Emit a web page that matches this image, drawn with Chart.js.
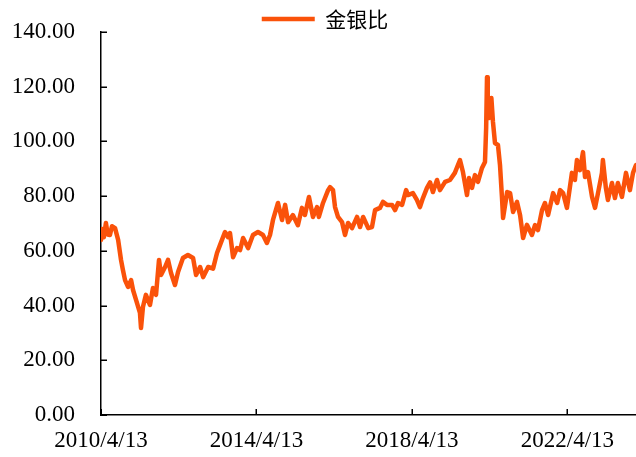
<!DOCTYPE html>
<html>
<head>
<meta charset="utf-8">
<script src="https://cdn.jsdelivr.net/npm/chart.js@4/dist/chart.umd.min.js"></script>
<style>
  html, body { margin: 0; padding: 0; background: #fff; }
  #wrap { width: 636px; height: 457px; position: relative; }
</style>
</head>
<body>
<div id="wrap"><canvas id="c"></canvas></div>
<script>
const seriesName = '金银比';
const startDate = '2010-04-13';
const endDate = '2024-01-17';
const tickDates = ['2010-04-13', '2014-04-13', '2018-04-13', '2022-04-13'];
const tickLabels = ['2010/4/13', '2014/4/13', '2018/4/13', '2022/4/13'];
const yTicks = [0, 20, 40, 60, 80, 100, 120, 140];

const dates = [
  '2010-04-13','2010-04-25','2010-05-10','2010-05-29','2010-06-15','2010-07-06','2010-07-25','2010-08-23','2010-09-21','2010-10-18',
  '2010-11-05','2010-11-25','2010-12-23','2011-01-21','2011-02-08','2011-03-09','2011-04-14','2011-04-24','2011-05-12','2011-06-09',
  '2011-07-17','2011-08-14','2011-09-12','2011-10-10','2011-10-29','2011-12-06','2012-01-03','2012-01-31','2012-03-08','2012-04-06',
  '2012-05-22','2012-07-08','2012-08-25','2012-09-22','2012-10-30','2012-11-28','2013-01-14','2013-03-01','2013-04-07','2013-05-05',
  '2013-06-21','2013-07-19','2013-08-07','2013-09-05','2013-10-12','2013-11-10','2013-12-08','2014-01-24','2014-03-11','2014-04-27',
  '2014-06-13','2014-07-20','2014-08-18','2014-09-15','2014-11-01','2014-12-09','2015-01-07','2015-02-04','2015-03-21','2015-05-07',
  '2015-06-14','2015-07-12','2015-08-19','2015-09-26','2015-11-03','2015-11-20','2015-12-29','2016-02-15','2016-03-04','2016-04-01',
  '2016-04-20','2016-05-18','2016-06-25','2016-07-23','2016-08-20','2016-09-27','2016-11-13','2016-12-11','2017-01-09','2017-02-26',
  '2017-04-02','2017-05-01','2017-06-16','2017-07-14','2017-08-21','2017-10-08','2017-11-05','2017-12-03','2018-01-10','2018-02-17',
  '2018-03-06','2018-04-22','2018-05-29','2018-06-27','2018-07-25','2018-09-01','2018-09-30','2018-10-27','2018-12-04','2019-01-01',
  '2019-02-18','2019-04-05','2019-05-21','2019-06-19','2019-07-08','2019-08-05','2019-09-12','2019-10-01','2019-10-29','2019-11-26',
  '2019-12-24','2020-01-31','2020-02-28','2020-03-10','2020-03-18','2020-03-25','2020-04-10','2020-04-28','2020-05-13','2020-06-01',
  '2020-06-29','2020-07-18','2020-08-06','2020-08-16','2020-09-23','2020-10-21','2020-11-18','2020-12-25','2021-01-23','2021-02-20',
  '2021-03-28','2021-05-14','2021-06-12','2021-07-10','2021-08-17','2021-09-14','2021-10-13','2021-11-29','2022-01-06','2022-02-03',
  '2022-03-03','2022-04-08','2022-05-06','2022-05-25','2022-06-22','2022-07-11','2022-08-08','2022-09-06','2022-09-25','2022-10-23',
  '2022-11-30','2022-12-28','2023-01-25','2023-03-03','2023-03-12','2023-04-09','2023-04-28','2023-06-05','2023-07-03','2023-07-31',
  '2023-09-07','2023-10-15','2023-11-21','2023-12-20','2024-01-17'
];
const ratio = [
  64.0, 68.0, 65.0, 70.2, 66.0, 65.8, 69.0, 68.3, 64.0, 56.7,
  53.0, 49.3, 46.8, 49.3, 45.7, 42.0, 37.3, 31.8, 39.5, 43.9,
  40.2, 46.4, 43.9, 56.7, 51.2, 54.1, 56.7, 51.9, 47.5, 52.3,
  57.4, 58.5, 57.4, 51.2, 54.1, 50.4, 54.1, 53.5, 59.2, 62.1,
  66.9, 65.0, 66.5, 57.7, 61.0, 60.3, 64.7, 61.0, 65.8, 66.9,
  65.8, 62.9, 65.8, 71.3, 77.5, 71.3, 76.8, 70.5, 73.1, 69.4,
  75.7, 73.1, 79.7, 72.4, 76.0, 72.4, 77.5, 82.2, 83.3, 82.2,
  76.0, 72.4, 70.5, 65.8, 70.2, 68.3, 72.4, 68.7, 72.4, 68.3,
  68.7, 74.9, 75.7, 77.9, 76.8, 76.8, 74.9, 77.5, 76.8, 82.2,
  80.4, 81.1, 78.6, 76.0, 79.3, 83.0, 85.0, 81.5, 85.9, 82.2,
  85.2, 85.9, 88.5, 91.4, 93.2, 88.8, 80.4, 86.6, 83.0, 87.7,
  85.2, 90.3, 92.5, 105.0, 123.5, 108.6, 108.6, 115.9, 107.1, 99.4,
  98.7, 91.4, 79.3, 72.0, 81.5, 81.1, 74.2, 77.9, 73.0, 64.7,
  69.5, 65.8, 69.4, 67.6, 74.9, 77.5, 73.1, 81.1, 77.5, 82.2,
  81.1, 75.7, 83.3, 88.5, 85.9, 93.2, 89.5, 96.1, 87.0, 88.8,
  79.7, 75.7, 81.1, 88.5, 93.2, 83.0, 78.6, 84.8, 79.3, 84.8,
  79.7, 88.5, 82.2, 88.5, 91.4
];

const DAY = 86400000;
const t0 = Date.parse(startDate);
const toDay = s => (Date.parse(s) - t0) / DAY;
const points = dates.map((d, i) => ({ x: toDay(d), y: ratio[i] }));
const tickDays = tickDates.map(toDay);

const lineColor = '#FA520A';
const serif = '"Liberation Serif", "Times New Roman", serif';

const innerTicks = {
  id: 'innerTicks',
  afterLayout(chart) {
    const lg = chart.legend;
    if (lg) {
      lg.left += 7; lg.right += 7;
      lg.top += 7.5; lg.bottom += 7.5;
    }
  },
  afterDraw(chart) {
    const { ctx, chartArea, scales } = chart;
    ctx.save();
    ctx.strokeStyle = '#000';
    ctx.lineWidth = 1.5;
    ctx.beginPath();
    scales.y.ticks.forEach(t => {
      const py = Math.round(scales.y.getPixelForValue(t.value)) + 0.25;
      ctx.moveTo(chartArea.left, py);
      ctx.lineTo(chartArea.left + 6, py);
    });
    scales.x.ticks.forEach(t => {
      const px = Math.round(scales.x.getPixelForValue(t.value)) + 0.25;
      ctx.moveTo(px, chartArea.bottom);
      ctx.lineTo(px, chartArea.bottom - 6);
    });
    ctx.stroke();
    ctx.restore();
  }
};

new Chart(document.getElementById('c'), {
  type: 'line',
  data: {
    datasets: [{
      label: seriesName,
      data: points,
      borderColor: lineColor,
      backgroundColor: lineColor,
      borderWidth: 4.5,
      pointRadius: 0,
      tension: 0,
      borderJoinStyle: 'round',
      borderCapStyle: 'round'
    }]
  },
  options: {
    responsive: true,
    maintainAspectRatio: false,
    animation: false,
    layout: { padding: { top: 0, left: 0, right: 0, bottom: 0 } },
    plugins: {
      tooltip: { enabled: false },
      legend: {
        position: 'top',
        labels: {
          usePointStyle: true,
          pointStyle: 'line',
          pointStyleWidth: 53,
          color: '#000',
          font: { family: '"Noto Sans CJK SC"', size: 21, lineHeight: 1 },
          padding: 1
        }
      }
    },
    scales: {
      x: {
        type: 'linear',
        min: 0,
        max: toDay(endDate),
        afterFit: s => { s.height = 42; },
        afterBuildTicks: s => { s.ticks = tickDays.map(v => ({ value: v })); },
        grid: { display: false, drawTicks: true, tickLength: 12 },
        border: { display: true, color: '#000', width: 1.5 },
        ticks: {
          autoSkip: false,
          maxRotation: 0,
          padding: 0,
          color: '#000',
          font: { family: serif, size: 23 },
          callback: (v) => { const i = tickDays.indexOf(v); return i >= 0 ? tickLabels[i] : ''; }
        }
      },
      y: {
        min: 0,
        max: 140,
        afterFit: s => { s.width = 101; },
        afterBuildTicks: s => { s.ticks = yTicks.map(v => ({ value: v })); },
        grid: { display: false, drawTicks: true, tickLength: 26 },
        border: { display: true, color: '#000', width: 1.5 },
        ticks: {
          padding: 0,
          color: '#000',
          font: { family: serif, size: 23 },
          callback: v => Number(v).toFixed(2)
        }
      }
    }
  },
  plugins: [innerTicks]
});
</script>
</body>
</html>
